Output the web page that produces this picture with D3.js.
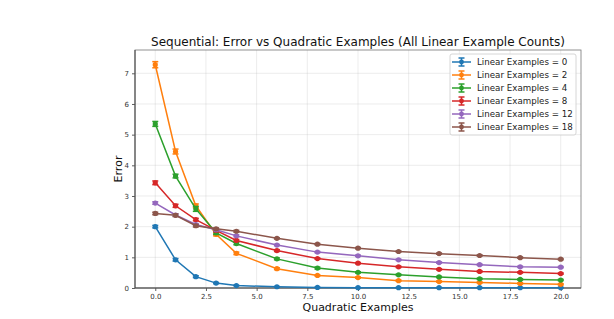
<!DOCTYPE html>
<html>
<head>
<meta charset="utf-8">
<script src="https://cdn.jsdelivr.net/npm/d3@7"></script>
<style>
	body { margin: 0; background: #fff; }
	svg { font-family: "DejaVu Sans", sans-serif; }
</style>
</head>
<body>
<div class="chart"></div>
<script>
const quadX = [0, 1, 2, 3, 4, 6, 8, 10, 12, 14, 16, 18, 20];
const linearCounts = [0, 2, 4, 8, 12, 18];
const colors = ["#1f77b4", "#ff7f0e", "#2ca02c", "#d62728", "#9467bd", "#8c564b"];

const err0 = [2.0, 0.92, 0.37, 0.16, 0.08, 0.04, 0.02, 0.01, 0.01, 0.01, 0.01, 0.01, 0.01];
const err2 = [7.28, 4.45, 2.68, 1.75, 1.13, 0.63, 0.41, 0.34, 0.24, 0.21, 0.18, 0.15, 0.12];
const err4 = [5.35, 3.65, 2.58, 1.8, 1.45, 0.95, 0.65, 0.51, 0.43, 0.36, 0.3, 0.28, 0.26];
const err8 = [3.43, 2.68, 2.23, 1.88, 1.55, 1.22, 0.96, 0.81, 0.69, 0.61, 0.54, 0.51, 0.47];
const err12 = [2.77, 2.38, 2.07, 1.9, 1.7, 1.4, 1.17, 1.05, 0.92, 0.83, 0.76, 0.69, 0.68];
const err18 = [2.43, 2.37, 2.03, 1.93, 1.85, 1.62, 1.43, 1.3, 1.19, 1.12, 1.06, 0.99, 0.94];

const sd0 = [0.04, 0.04, 0.03, 0.02, 0.01, 0.01, 0.01, 0.01, 0.01, 0.01, 0.01, 0.01, 0.01];
const sd2 = [0.1, 0.08, 0.06, 0.05, 0.04, 0.03, 0.02, 0.02, 0.02, 0.02, 0.02, 0.02, 0.02];
const sd4 = [0.08, 0.06, 0.08, 0.05, 0.04, 0.03, 0.03, 0.02, 0.02, 0.02, 0.02, 0.02, 0.02];
const sd8 = [0.06, 0.05, 0.04, 0.04, 0.03, 0.03, 0.02, 0.02, 0.02, 0.02, 0.02, 0.02, 0.02];
const sd12 = [0.04, 0.04, 0.03, 0.03, 0.03, 0.02, 0.02, 0.02, 0.02, 0.02, 0.02, 0.02, 0.02];
const sd18 = [0.04, 0.04, 0.04, 0.03, 0.03, 0.02, 0.02, 0.02, 0.02, 0.02, 0.02, 0.02, 0.02];

const xTicks = [0, 2.5, 5, 7.5, 10, 12.5, 15, 17.5, 20];
const yTicks = [0, 1, 2, 3, 4, 5, 6, 7];

const means = [err0, err2, err4, err8, err12, err18];
const sds = [sd0, sd2, sd4, sd8, sd12, sd18];

var w = 614,
	h = 319,
	plotLeft = 135,
	plotRight = 581,
	plotTop = 50,
	plotBottom = 288;

const series = linearCounts.map((n, i) => ({
	label: "Linear Examples = " + n,
	color: colors[i],
	points: quadX.map((x, j) => ({ x: x, y: means[i][j], e: sds[i][j] }))
}));

const svg = d3.select(".chart").append("svg").attr("width", w).attr("height", h);

const xScale = d3.scaleLinear().domain([-1, 21]).range([plotLeft, plotRight]);
const yScale = d3.scaleLinear().domain([0, 7.76]).range([plotBottom, plotTop]);

// grid
svg.append("g")
	.selectAll("line")
	.data(xTicks)
	.enter()
	.append("line")
	.attr("x1", (d) => xScale(d))
	.attr("x2", (d) => xScale(d))
	.attr("y1", plotTop)
	.attr("y2", plotBottom)
	.attr("stroke", "#b0b0b0")
	.attr("stroke-opacity", 0.3)
	.attr("stroke-width", 0.8);
svg.append("g")
	.selectAll("line")
	.data(yTicks)
	.enter()
	.append("line")
	.attr("x1", plotLeft)
	.attr("x2", plotRight)
	.attr("y1", (d) => yScale(d))
	.attr("y2", (d) => yScale(d))
	.attr("stroke", "#b0b0b0")
	.attr("stroke-opacity", 0.3)
	.attr("stroke-width", 0.8);

const xAxis = d3.axisBottom(xScale).tickValues(xTicks).tickFormat(d3.format(".1f")).tickSize(3).tickPadding(3);
const yAxis = d3.axisLeft(yScale).tickValues(yTicks).tickFormat(d3.format("d")).tickSize(3).tickPadding(3);

const gx = svg.append("g").attr("transform", "translate(0," + plotBottom + ")").call(xAxis);
const gy = svg.append("g").attr("transform", "translate(" + plotLeft + ",0)").call(yAxis);
[gx, gy].forEach((g) => {
	g.select(".domain").remove();
	g.selectAll("text").attr("font-size", 7).attr("fill", "#333").attr("font-family", "DejaVu Sans");
	g.selectAll("line").attr("stroke", "#333").attr("stroke-width", 0.8);
});

// spines
svg.append("rect")
	.attr("x", plotLeft)
	.attr("y", plotTop)
	.attr("width", plotRight - plotLeft)
	.attr("height", plotBottom - plotTop)
	.attr("fill", "none")
	.attr("stroke", "#777")
	.attr("stroke-width", 0.8);
svg.append("line").attr("x1", plotLeft).attr("x2", plotLeft).attr("y1", plotTop).attr("y2", plotBottom).attr("stroke", "#444").attr("stroke-width", 1);
svg.append("line").attr("x1", plotLeft).attr("x2", plotRight).attr("y1", plotBottom).attr("y2", plotBottom).attr("stroke", "#444").attr("stroke-width", 1);

const line = d3.line().x((d) => xScale(d.x)).y((d) => yScale(d.y));

const groups = svg.selectAll(".series")
	.data(series)
	.enter()
	.append("g")
	.attr("class", "series");

groups.append("path")
	.attr("d", (d) => line(d.points))
	.attr("fill", "none")
	.attr("stroke", (d) => d.color)
	.attr("stroke-width", 1.5);

groups.each(function (s) {
	const g = d3.select(this);
	const pts = g.selectAll(".pt").data(s.points).enter().append("g").attr("class", "pt");
	pts.append("line")
		.attr("x1", (d) => xScale(d.x))
		.attr("x2", (d) => xScale(d.x))
		.attr("y1", (d) => yScale(d.y - d.e))
		.attr("y2", (d) => yScale(d.y + d.e))
		.attr("stroke", s.color)
		.attr("stroke-width", 1.5);
	[-1, 1].forEach((sgn) => {
		pts.append("line")
			.attr("x1", (d) => xScale(d.x) - 3)
			.attr("x2", (d) => xScale(d.x) + 3)
			.attr("y1", (d) => yScale(d.y + sgn * d.e))
			.attr("y2", (d) => yScale(d.y + sgn * d.e))
			.attr("stroke", s.color)
			.attr("stroke-width", 1.5);
	});
	pts.append("circle")
		.attr("cx", (d) => xScale(d.x))
		.attr("cy", (d) => yScale(d.y))
		.attr("r", 2.6)
		.attr("fill", s.color);
});

// title and labels
svg.append("text")
	.attr("x", (plotLeft + plotRight) / 2)
	.attr("y", 46)
	.attr("text-anchor", "middle")
	.attr("font-size", 12)
	.attr("fill", "#111")
	.text("Sequential: Error vs Quadratic Examples (All Linear Example Counts)");

svg.append("text")
	.attr("x", (plotLeft + plotRight) / 2)
	.attr("y", 311)
	.attr("text-anchor", "middle")
	.attr("font-size", 11)
	.attr("fill", "#111")
	.text("Quadratic Examples");

svg.append("text")
	.attr("transform", "translate(122," + (plotTop + plotBottom) / 2 + ") rotate(-90)")
	.attr("text-anchor", "middle")
	.attr("font-size", 11)
	.attr("fill", "#111")
	.text("Error");

// legend
const legend = svg.append("g").attr("id", "legend");
legend.append("rect")
	.attr("x", 450)
	.attr("y", 54)
	.attr("width", 126)
	.attr("height", 81)
	.attr("rx", 2)
	.attr("fill", "#fff")
	.attr("fill-opacity", 0.8)
	.attr("stroke", "#ccc")
	.attr("stroke-width", 0.8);

const items = legend.selectAll(".legend-label")
	.data(series)
	.enter()
	.append("g")
	.attr("class", "legend-label")
	.attr("transform", (d, i) => "translate(0," + (62 + i * 13) + ")");

items.append("line").attr("x1", 452).attr("x2", 471).attr("y1", 0).attr("y2", 0).attr("stroke", (d) => d.color).attr("stroke-width", 1.5);
items.append("line").attr("x1", 461.5).attr("x2", 461.5).attr("y1", -4).attr("y2", 4).attr("stroke", (d) => d.color).attr("stroke-width", 1.5);
items.append("line").attr("x1", 458.5).attr("x2", 464.5).attr("y1", -4).attr("y2", -4).attr("stroke", (d) => d.color).attr("stroke-width", 1.5);
items.append("line").attr("x1", 458.5).attr("x2", 464.5).attr("y1", 4).attr("y2", 4).attr("stroke", (d) => d.color).attr("stroke-width", 1.5);
items.append("circle").attr("cx", 461.5).attr("cy", 0).attr("r", 2.4).attr("fill", (d) => d.color);
items.append("text")
	.attr("x", 477)
	.attr("y", 0)
	.attr("dy", ".35em")
	.attr("font-size", 8.7)
	.attr("fill", "#222")
	.text((d) => d.label);
</script>
</body>
</html>
